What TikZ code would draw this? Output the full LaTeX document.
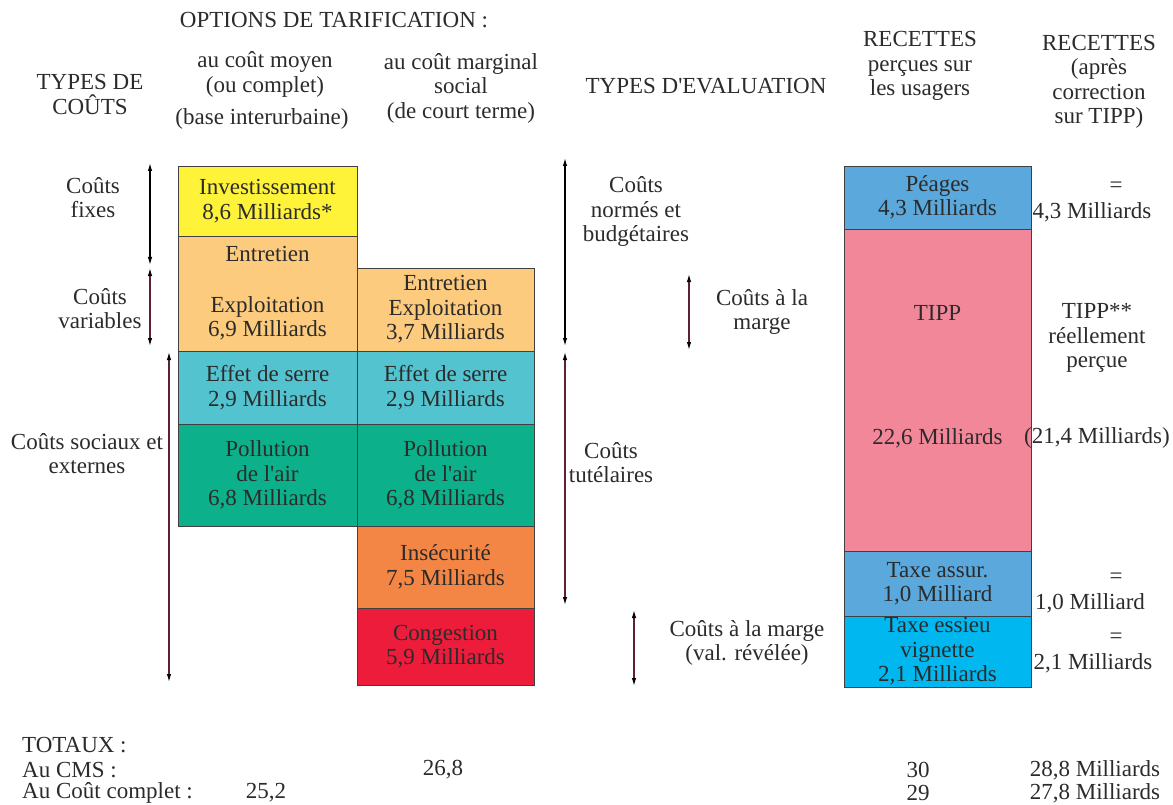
\documentclass[tikz,border=0pt]{standalone}
\usepackage{fontspec}
\setmainfont{Liberation Serif}[Ligatures=TeXOff]
\usetikzlibrary{arrows.meta}
\definecolor{cyel}{HTML}{FFF33A}
\definecolor{cpeach}{HTML}{FDCB7E}
\definecolor{cteal}{HTML}{53C3CF}
\definecolor{cgreen}{HTML}{0CB08A}
\definecolor{corange}{HTML}{F38645}
\definecolor{cred}{HTML}{EE1C3B}
\definecolor{cblue}{HTML}{5AA8DC}
\definecolor{cpink}{HTML}{F2879A}
\definecolor{ccyan}{HTML}{00B8EF}
\definecolor{ctext}{HTML}{2B2B2B}
\definecolor{carrow}{HTML}{5C2233}
\begin{document}
\begin{tikzpicture}[x=1pt,y=-1pt,
  every node/.style={text=ctext,font=\fontsize{23}{24.5}\selectfont,align=center,inner sep=0pt},
  box/.style={draw=black!75,line width=0.8pt},
  colL/.style={box,minimum width=179pt},
  colM/.style={box,minimum width=177pt},
  colR/.style={box,minimum width=187pt},
  dbl/.style={draw=carrow,line width=1.2pt,{Latex[length=8pt,width=4.5pt,color=black]}-{Latex[length=8pt,width=4.5pt,color=black]}}]
\useasboundingbox (0,0) rectangle (1173,805);
% headers
\node (opt) at (334,20) {OPTIONS DE TARIFICATION :};
\node (moy) at (265,74.5) {au coût moyen\\(ou complet)};
\node (base) at (262,119) {(base interurbaine)};
\node (marg) at (461,88) {au coût marginal\\social\\(de court terme)};
\node (typc) at (90,94.5) {TYPES DE\\COÛTS};
\node (type) at (706,86) {TYPES D'EVALUATION};
\node (rec1) at (920,66) {RECETTES\\perçues sur\\les usagers};
\node (rec2) at (1099,82) {RECETTES\\(après\\correction\\sur TIPP)};
% left labels
\node (fix) at (93,197.5) {Coûts\\fixes};
\node (var) at (100,308.5) {Coûts\\variables};
\node (soc) at (87,453.5) {Coûts sociaux et\\externes};
% left column
\node[colL,fill=cyel,minimum height=70pt] (inv) at (267.5,201) {Investissement\\8,6 Milliards*};
\node[colL,fill=cpeach,minimum height=115pt] (ent1) at (267.5,293.5) {Entretien\\[26pt]Exploitation\\6,9 Milliards};
\node[colL,fill=cteal,minimum height=73pt] (ser1) at (267.5,387.5) {Effet de serre\\2,9 Milliards};
\node[colL,fill=cgreen,minimum height=102pt] (pol1) at (267.5,475) {Pollution\\de l'air\\6,8 Milliards};
% middle column
\node[colM,fill=cpeach,minimum height=83pt] (ent2) at (445.5,309.5) {Entretien\\Exploitation\\3,7 Milliards};
\node[colM,fill=cteal,minimum height=73pt] (ser2) at (445.5,387.5) {Effet de serre\\2,9 Milliards};
\node[colM,fill=cgreen,minimum height=102pt] (pol2) at (445.5,475) {Pollution\\de l'air\\6,8 Milliards};
\node[colM,fill=corange,minimum height=82pt] (ins) at (445.5,567) {Insécurité\\7,5 Milliards};
\node[colM,fill=cred,minimum height=77pt] (con) at (445.5,646.5) {Congestion\\5,9 Milliards};
% right column
\node[colR,fill=cblue,minimum height=63pt] (pea) at (937.5,197.5) {Péages\\4,3 Milliards};
\node[colR,fill=cpink,minimum height=322pt] (tipp) at (937.5,390) {};
\node (tippa) at (937.5,313) {TIPP};
\node (tippb) at (937.5,438) {22,6 Milliards};
\node[colR,fill=cblue,minimum height=65pt] (tax) at (937.5,583.5) {Taxe assur.\\1,0 Milliard};
\node[colR,fill=ccyan,minimum height=71pt] (ess) at (937.5,651.5) {Taxe essieu\\vignette\\2,1 Milliards};
% evaluation labels
\node (norm) at (636,211.5) {Coûts\\normés et\\budgétaires};
\node (mar1) at (762,312) {Coûts à la\\marge};
\node (tut) at (611,462.5) {Coûts\\tutélaires};
\node (mar2) at (747,643) {Coûts à la marge\\(val. révélée)};
% right texts
\node (eq1) at (1116,187) {=};
\node (r1) at (1092,212) {4,3 Milliards};
\node (r2) at (1097,338) {TIPP**\\réellement\\perçue};
\node (r3) at (1097,438) {(21,4 Milliards)};
\node (eq2) at (1116,578) {=};
\node (r4) at (1090,603) {1,0 Milliard};
\node (eq3) at (1116,638) {=};
\node (r5) at (1093,663) {2,1 Milliards};
% totals
\node[anchor=west] (tot) at (22,745) {TOTAUX :};
\node[anchor=west] (cms) at (22,770) {Au CMS :};
\node[anchor=west] (cc) at (22,793) {Au Coût complet :};
\node (t1) at (443,770) {26,8};
\node (t2) at (266,793) {25,2};
\node (t3) at (918,770) {30};
\node (t4) at (918,793) {29};
\node (t5) at (1095,770) {28,8 Milliards};
\node (t6) at (1095,793) {27,8 Milliards};
% arrows
\coordinate (a1t) at (150,163); \coordinate (a1b) at (150,265);
\coordinate (a2t) at (150,268); \coordinate (a2b) at (150,346);
\coordinate (a3t) at (169,352); \coordinate (a3b) at (169,682);
\coordinate (e1t) at (565,158); \coordinate (e1b) at (565,346);
\coordinate (e2t) at (565,352); \coordinate (e2b) at (565,605);
\coordinate (e3t) at (689,274); \coordinate (e3b) at (689,350);
\coordinate (e4t) at (634,610); \coordinate (e4b) at (634,686);
\draw[dbl,draw=black] (a1t) -- (a1b);
\draw[dbl] (a2t) -- (a2b);
\draw[dbl] (a3t) -- (a3b);
\draw[dbl,draw=black] (e1t) -- (e1b);
\draw[dbl] (e2t) -- (e2b);
\draw[dbl] (e3t) -- (e3b);
\draw[dbl] (e4t) -- (e4b);
\end{tikzpicture}
\end{document}
